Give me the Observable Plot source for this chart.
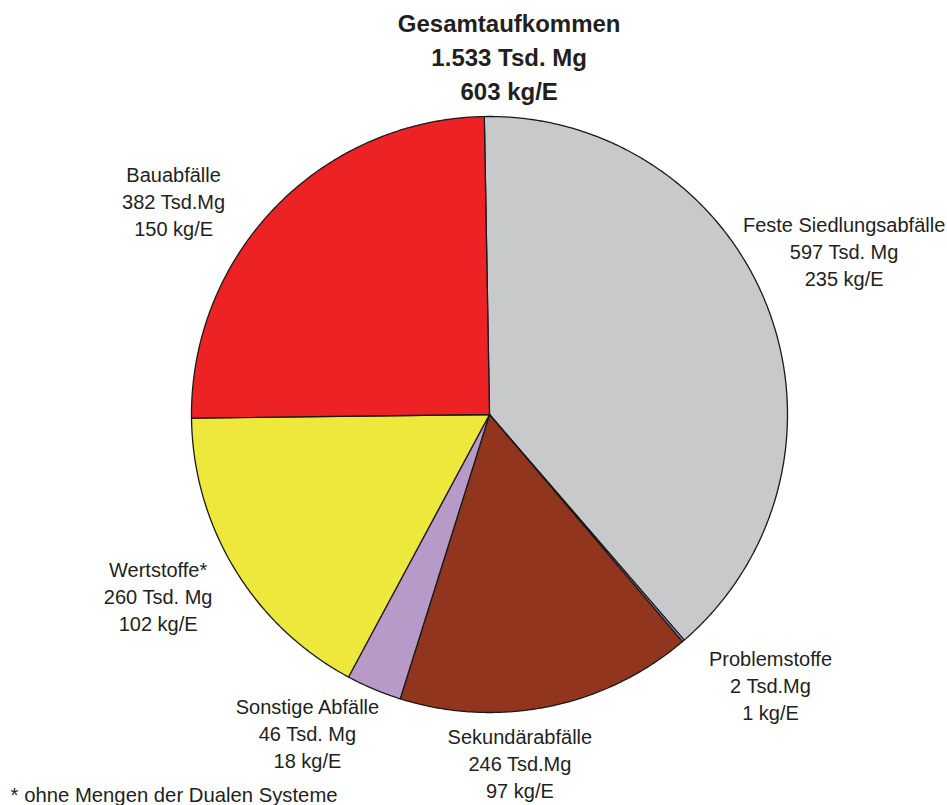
<!DOCTYPE html>
<html>
<head>
<meta charset="utf-8">
<script src="https://cdn.jsdelivr.net/npm/d3@7"></script>
<script src="https://cdn.jsdelivr.net/npm/@observablehq/plot@0.6"></script>
<style>
  html, body { margin: 0; padding: 0; background: #fff; }
  svg { display: block; }
</style>
</head>
<body>
<div id="chart"></div>
<script>
// ---- data ----
const categories = ["Feste Siedlungsabfälle", "Problemstoffe", "Sekundärabfälle", "Sonstige Abfälle", "Wertstoffe*", "Bauabfälle"];
const mengeTsdMg = [597, 2, 246, 46, 260, 382];
const mengeLabels = ["597 Tsd. Mg", "2 Tsd.Mg", "246 Tsd.Mg", "46 Tsd. Mg", "260 Tsd. Mg", "382 Tsd.Mg"];
const kgProE = [235, 1, 97, 18, 102, 150];
const colors = ["#c8c9cb", "#b89ac8", "#92351e", "#b89ac8", "#eee83c", "#ed2224"];
const titleLines = ["Gesamtaufkommen", "1.533 Tsd. Mg", "603 kg/E"];
const footnote = "* ohne Mengen der Dualen Systeme";

// ---- layout (pie units: centre 0,0, radius 1) ----
const startDeg = -1;
const labelX = [1.19, 0.943, 0.102, -0.611, -1.112, -1.06];
const labelY = [0.55, -0.906, -1.168, -1.067, -0.607, 0.718];
const titlePos = [0.066, 1.205];
const footPos = [-1.607, -1.279];

// ---- build slices ----
const total = d3.sum(mengeTsdMg);
const points = [];
let cum = 0;
categories.forEach((name, i) => {
  const a0 = startDeg + cum / total * 360;
  cum += mengeTsdMg[i];
  const a1 = startDeg + cum / total * 360;
  points.push({name, x: 0, y: 0});
  const n = Math.max(2, Math.ceil((a1 - a0) / 0.5));
  for (let k = 0; k <= n; k++) {
    const a = (a0 + (a1 - a0) * k / n) * Math.PI / 180;
    points.push({name, x: Math.sin(a), y: Math.cos(a)});
  }
});

const labels = categories.map((name, i) => ({
  x: labelX[i], y: labelY[i],
  text: `${name}\n${mengeLabels[i]}\n${kgProE[i]} kg/E`
}));

const textColor = "#231f20";

const chart = Plot.plot({
  width: 947,
  height: 805,
  margin: 0,
  x: {domain: [-1, 1], range: [191, 787], axis: null},
  y: {domain: [-1, 1], range: [712, 116], axis: null},
  color: {domain: categories, range: colors},
  style: {fontFamily: "'Liberation Sans', Arial, sans-serif", background: "#fff"},
  marks: [
    Plot.line(points, {x: "x", y: "y", z: "name", fill: "name", stroke: "#1a1a1a", strokeWidth: 1.3, curve: "linear-closed", strokeLinejoin: "round"}),
    Plot.text(labels, {x: "x", y: "y", text: "text", fontSize: 20, lineHeight: 1.35, fill: textColor, textAnchor: "middle", lineAnchor: "middle"}),
    Plot.text([titleLines.join("\n")], {x: titlePos[0], y: titlePos[1], text: d => d, fontSize: 24, fontWeight: "bold", lineHeight: 1.42, fill: textColor, textAnchor: "middle", lineAnchor: "middle"}),
    Plot.text([footnote], {x: footPos[0], y: footPos[1], text: d => d, fontSize: 20.3, fill: textColor, textAnchor: "start", lineAnchor: "middle"})
  ]
});
document.getElementById("chart").appendChild(chart);
</script>
</body>
</html>
